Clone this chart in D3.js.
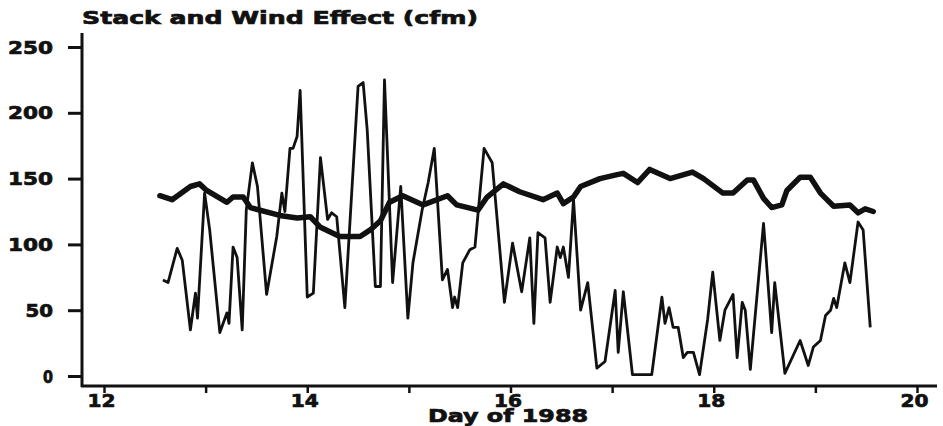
<!DOCTYPE html>
<html>
<head>
<meta charset="utf-8">
<script src="https://cdnjs.cloudflare.com/ajax/libs/d3/7.8.5/d3.min.js"></script>
<style>
  body { margin: 0; background: #fff; }
  svg { display: block; }
  .lbl { font-family: "DejaVu Sans", sans-serif; font-weight: bold; fill: #111; stroke: #111; stroke-width: 0.7px; }
</style>
</head>
<body>
<div id="chart"></div>
<script>
// day of year (1988) and flow in cfm
const thickDays = [12.55, 12.67, 12.85, 12.94, 13.01, 13.21, 13.27, 13.37, 13.44, 13.73,
  13.90, 14.03, 14.13, 14.32, 14.52, 14.62, 14.72, 14.81, 14.94, 15.14,
  15.38, 15.47, 15.68, 15.77, 15.93, 16.09, 16.32, 16.46, 16.52, 16.62,
  16.69, 16.88, 17.05, 17.11, 17.25, 17.37, 17.57, 17.79, 17.90, 18.09,
  18.19, 18.33, 18.39, 18.49, 18.57, 18.67, 18.72, 18.85, 18.95, 19.05,
  19.18, 19.34, 19.42, 19.49, 19.57];
const thickCfm = [137, 134, 144, 146, 141, 132, 136, 136, 128, 122,
  120, 121, 113, 106, 106, 111, 118, 132, 137, 130,
  137, 130, 126, 136, 146, 140, 134, 139, 131, 136,
  144, 150, 153, 154, 147, 157, 150, 155, 150, 139,
  139, 149, 149, 135, 128, 130, 141, 151, 151, 139,
  129, 130, 124, 127, 125];

const thinDays = [12.58, 12.63, 12.72, 12.77, 12.85, 12.90, 12.92, 12.99, 13.04, 13.14,
  13.21, 13.23, 13.27, 13.31, 13.36, 13.40, 13.46, 13.51, 13.60, 13.70,
  13.75, 13.78, 13.83, 13.86, 13.90, 13.93, 14.00, 14.06, 14.13, 14.20,
  14.24, 14.29, 14.37, 14.50, 14.55, 14.59, 14.67, 14.72, 14.76, 14.84,
  14.92, 14.99, 15.04, 15.13, 15.19, 15.25, 15.33, 15.38, 15.43, 15.45,
  15.48, 15.53, 15.60, 15.65, 15.74, 15.82, 15.94, 16.02, 16.11, 16.19,
  16.23, 16.27, 16.34, 16.39, 16.46, 16.49, 16.52, 16.57, 16.59, 16.62,
  16.69, 16.76, 16.85, 16.93, 17.03, 17.06, 17.11, 17.20, 17.39, 17.49,
  17.52, 17.56, 17.60, 17.65, 17.70, 17.74, 17.80, 17.86, 17.94, 17.99,
  18.06, 18.11, 18.19, 18.23, 18.28, 18.31, 18.36, 18.49, 18.57, 18.60,
  18.70, 18.85, 18.93, 18.98, 19.05, 19.10, 19.15, 19.18, 19.21, 19.29,
  19.34, 19.42, 19.47, 19.54];
const thinCfm = [73, 71, 97, 88, 35, 63, 44, 139, 111, 33,
  48, 40, 98, 90, 35, 126, 162, 144, 62, 106,
  139, 125, 173, 173, 182, 217, 60, 63, 166, 119,
  124, 121, 52, 220, 223, 187, 68, 68, 225, 71,
  144, 44, 86, 126, 147, 173, 73, 81, 52, 60,
  52, 86, 96, 98, 173, 162, 56, 101, 64, 105,
  40, 109, 105, 56, 98, 90, 98, 75, 98, 134,
  50, 71, 6, 11, 65, 18, 64, 1, 1, 60,
  40, 52, 37, 37, 14, 18, 18, 1, 43, 79,
  27, 50, 62, 14, 56, 50, 5, 116, 33, 71,
  2, 27, 8, 22, 27, 46, 50, 59, 52, 86,
  71, 117, 111, 37];

const xTicks = [12, 13, 14, 15, 16, 17, 18, 19, 20];
const xTickLabels = ["12", "", "14", "", "16", "", "18", "", "20"];
const yTicks = [0, 50, 100, 150, 200, 250];

const titleText = "Stack and Wind Effect (cfm)";
const xTitleText = "Day of 1988";

const width = 943, height = 426;
const axisX = 82, axisY = 386;

const svg = d3.select("#chart").append("svg")
    .attr("width", width)
    .attr("height", height);

const xScale = d3.scaleLinear().domain([12, 20]).range([104, 917]);
const yScale = d3.scaleLinear().domain([0, 250]).range([376, 47]);

// axis lines
svg.append("line")
    .attr("x1", axisX).attr("x2", axisX)
    .attr("y1", 33).attr("y2", axisY + 1)
    .attr("stroke", "#111").attr("stroke-width", 3);
svg.append("line")
    .attr("x1", axisX - 1).attr("x2", 937)
    .attr("y1", axisY).attr("y2", axisY)
    .attr("stroke", "#111").attr("stroke-width", 3);

// y ticks
const yAxisG = svg.append("g")
    .attr("transform", "translate(" + axisX + ",0)")
    .call(d3.axisLeft(yScale).tickValues(yTicks).tickSize(14).tickSizeOuter(0).tickPadding(15));
yAxisG.select(".domain").remove();
yAxisG.selectAll(".tick line").attr("stroke", "#111").attr("stroke-width", 3);
yAxisG.selectAll(".tick text")
    .attr("class", "lbl")
    .attr("font-size", 17)
    .attr("dy", "0.36em")
    .attr("textLength", d => 17.5 * String(d).length - 7.5)
    .attr("lengthAdjust", "spacingAndGlyphs");

// x ticks, labels only on even days
const xAxisG = svg.append("g")
    .attr("transform", "translate(0," + axisY + ")")
    .call(d3.axisBottom(xScale).tickValues(xTicks).tickSize(7).tickSizeOuter(0)
        .tickFormat((d, i) => xTickLabels[i]));
xAxisG.select(".domain").remove();
xAxisG.selectAll(".tick line").attr("stroke", "#111").attr("stroke-width", 2.5);
xAxisG.selectAll(".tick text")
    .attr("class", "lbl")
    .attr("font-size", 17)
    .attr("x", -3)
    .attr("y", 21)
    .attr("dy", 0)
    .attr("textLength", (d, i) => xTickLabels[i] ? 28 : null)
    .attr("lengthAdjust", "spacingAndGlyphs");

// titles
svg.append("text")
    .attr("class", "lbl")
    .attr("x", axisX).attr("y", 24)
    .attr("font-size", 18)
    .attr("textLength", 396)
    .attr("lengthAdjust", "spacingAndGlyphs")
    .text(titleText);

svg.append("text")
    .attr("class", "lbl")
    .attr("x", 428).attr("y", 422)
    .attr("font-size", 17)
    .attr("textLength", 160)
    .attr("lengthAdjust", "spacingAndGlyphs")
    .text(xTitleText);

// series
const line = d3.line()
    .x(d => xScale(d[0]))
    .y(d => yScale(d[1]));

const thinData = d3.zip(thinDays, thinCfm);
const thickData = d3.zip(thickDays, thickCfm);

svg.append("path")
    .datum(thinData)
    .attr("d", line)
    .attr("fill", "none")
    .attr("stroke", "#111")
    .attr("stroke-width", 2.8)
    .attr("stroke-linejoin", "round");

svg.append("path")
    .datum(thickData)
    .attr("d", line)
    .attr("fill", "none")
    .attr("stroke", "#111")
    .attr("stroke-width", 5.5)
    .attr("stroke-linejoin", "round")
    .attr("stroke-linecap", "round");
</script>
</body>
</html>
